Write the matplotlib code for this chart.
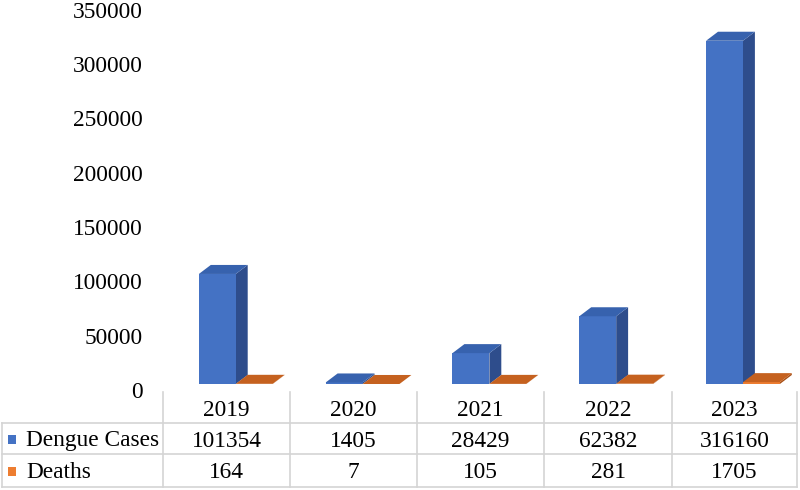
"""
Dengue cases and deaths 2019-2023: pseudo-3D column chart with data table below.
"""
import matplotlib
matplotlib.use('Agg')
import matplotlib.pyplot as plt
from matplotlib.patches import Polygon, Rectangle
from matplotlib.transforms import ScaledTranslation

# Data
years = ['2019', '2020', '2021', '2022', '2023']
series_names = ['Dengue Cases', 'Deaths']
dengue_cases = [101354, 1405, 28429, 62382, 316160]
deaths = [164, 7, 105, 281, 1705]
y_ticks = [0, 50000, 100000, 150000, 200000, 250000, 300000, 350000]

# Styling
front_cols = ['#4472C4', '#ED7D31']
top_cols = ['#3762AE', '#C5611F']
side_cols = ['#2E4D8C', '#A84F15']
grid_col = '#D4D4D4'
W, H = 800, 490
fs = 16.8

plt.rcParams['font.family'] = ['Liberation Serif', 'DejaVu Serif']
fig = plt.figure(figsize=(8, 4.9), dpi=100)
fig.patch.set_facecolor('white')

# plot area: x from 163px to 797px, y value 0 at 384px, 350000 at 4px
ax = fig.add_axes([163 / W, (H - 384) / H, 634 / W, 380 / H])
ax.set_xlim(-0.5, len(years) - 0.5)
ax.set_ylim(0, 350000)
ax.axis('off')

bar_w = 0.291
offsets = [-0.217, -0.217 + bar_w]
dx, dy = 0.094, 8300  # depth of the 3D effect in data units

for s, vals in enumerate([dengue_cases, deaths]):
    for i, v in enumerate(vals):
        x0 = i + offsets[s]
        x1 = x0 + bar_w
        ax.add_patch(Rectangle((x0, 0), bar_w, v, facecolor=front_cols[s],
                               edgecolor='none', zorder=3))
        ax.add_patch(Polygon([(x0, v), (x1, v), (x1 + dx, v + dy), (x0 + dx, v + dy)],
                             closed=True, facecolor=top_cols[s], edgecolor='none', zorder=3))
        ax.add_patch(Polygon([(x1, 0), (x1 + dx, dy), (x1 + dx, v + dy), (x1, v)],
                             closed=True, facecolor=side_cols[s], edgecolor='none', zorder=2))

# y tick labels (drawn by hand since axis is off), slightly below front baseline
shift = ScaledTranslation(0, -6 / 72, fig.dpi_scale_trans)
for t in y_ticks:
    ax.text(-0.5 - 0.16, t, str(t), ha='right', va='center', fontsize=fs,
            transform=ax.transData + shift, clip_on=False)

# ---- data table (pixel coordinates converted to figure fraction) ----
def fx(px):
    return px / W

def fy(py):
    return 1 - py / H

col_edges = [163, 290, 417, 544, 672, 797]
row_edges = [392, 423, 454, 487]

def hline(y, x0, x1):
    fig.add_artist(plt.Line2D([fx(x0), fx(x1)], [fy(y), fy(y)], color=grid_col, lw=1.2))

def vline(x, y0, y1):
    fig.add_artist(plt.Line2D([fx(x), fx(x)], [fy(y0), fy(y1)], color=grid_col, lw=1.2))

for y in row_edges[1:]:
    hline(y, 2, 797)
for x in col_edges:
    vline(x, 392, 487)
vline(2, 423, 487)

for j, yr in enumerate(years):
    cx = (col_edges[j] + col_edges[j + 1]) / 2
    fig.text(fx(cx), fy(411), yr, ha='center', va='center', fontsize=fs)
    fig.text(fx(cx), fy(441), str(dengue_cases[j]), ha='center', va='center', fontsize=fs)
    fig.text(fx(cx), fy(472), str(deaths[j]), ha='center', va='center', fontsize=fs)

for s, name in enumerate(series_names):
    cy = (row_edges[s + 1] + row_edges[s + 2]) / 2
    fig.add_artist(Rectangle((fx(8), fy(cy + 5)), 8 / W, 9 / H, facecolor=front_cols[s],
                             edgecolor='none', transform=fig.transFigure))
    fig.text(fx(26), fy(cy + 2), name, ha='left', va='center', fontsize=fs)

plt.savefig('out.png', dpi=100, facecolor='white')
